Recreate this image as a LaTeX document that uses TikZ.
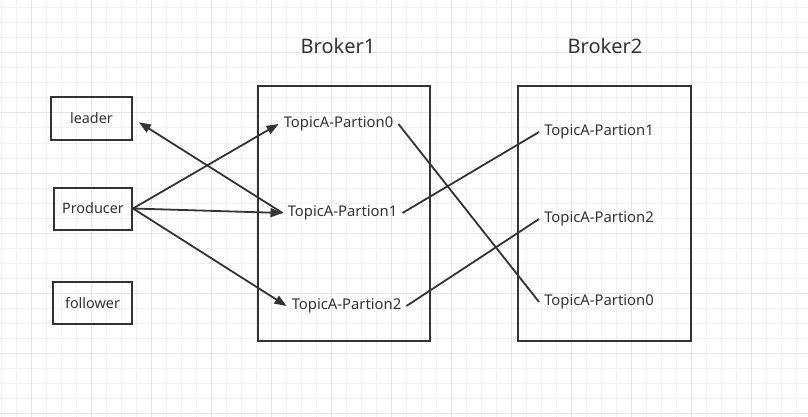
\documentclass[tikz,border=0pt]{standalone}
\usepackage{fontspec}
\setmainfont{Noto Sans}
\usetikzlibrary{arrows.meta}

\definecolor{ink}{HTML}{333333}
\definecolor{gridminor}{HTML}{F0F0F0}
\definecolor{gridmajor}{HTML}{E3E3E3}

\tikzset{
  box/.style={draw=ink, line width=2pt, minimum height=42pt, inner sep=0pt,
    text=ink, font=\fontsize{14.4}{16}\selectfont},
  brokerbox/.style={draw=ink, line width=2pt, minimum width=172pt,
    minimum height=255pt, inner sep=0pt},
  part/.style={text=ink, inner xsep=5pt, inner ysep=2pt,
    font=\fontsize{14.8}{17}\selectfont},
  title/.style={text=ink, font=\fontsize{20}{23}\selectfont},
  link/.style={draw=ink, line width=1.8pt},
  arrow/.style={link, -{Triangle[length=12pt,width=9pt]}},
}

\begin{document}
\begin{tikzpicture}[x=1pt, y=-1pt]
  \useasboundingbox (0,0) rectangle (808,417);
  % Background grid
  \fill[white] (0,0) rectangle (808,417);
  \foreach \x in {1,16,...,808} \draw[gridminor, line width=1pt] (\x,0) -- (\x,417);
  \foreach \y in {8,23,...,417} \draw[gridminor, line width=1pt] (0,\y) -- (808,\y);
  \foreach \x in {31,91,...,808} \draw[gridmajor, line width=1pt] (\x,0) -- (\x,417);
  \foreach \y in {53,113,...,417} \draw[gridmajor, line width=1pt] (0,\y) -- (808,\y);

  % Left boxes
  \node[box, minimum width=81pt] (leader) at (91.5,118.5) {leader};
  \node[box, minimum width=78pt] (producer) at (93,208.5) {Producer};
  \node[box, minimum width=79pt] (follower) at (92.5,303) {follower};

  % Brokers
  \node[brokerbox] (broker1) at (344,213.5) {};
  \node[brokerbox, minimum width=173pt] (broker2) at (604.5,213.5) {};
  \node[title] (b1title) at (338,46) {Broker1};
  \node[title] (b2title) at (605,46) {Broker2};

  % Partitions in Broker1
  \node[part] (b1p0) at (338.5,124) {TopicA-Partion0};
  \node[part] (b1p1) at (342.5,213) {TopicA-Partion1};
  \node[part] (b1p2) at (346.5,306) {TopicA-Partion2};

  % Partitions in Broker2
  \node[part] (b2p1) at (599,132) {TopicA-Partion1};
  \node[part] (b2p2) at (599,219) {TopicA-Partion2};
  \node[part] (b2p0) at (599,302) {TopicA-Partion0};

  % Producer writes
  \draw[arrow] (producer.east) -- (b1p0.west);
  \draw[arrow] (producer.east) -- (b1p1.west);
  \draw[arrow] (producer.east) -- (b1p2.west);
  \draw[arrow, shorten >=7pt] (b1p1.west) -- (leader.east);

  % Replicas
  \draw[link] (b1p0.east) -- (b2p0.west);
  \draw[link] (b1p1.east) -- (b2p1.west);
  \draw[link] (b1p2.east) -- (b2p2.west);
\end{tikzpicture}
\end{document}
